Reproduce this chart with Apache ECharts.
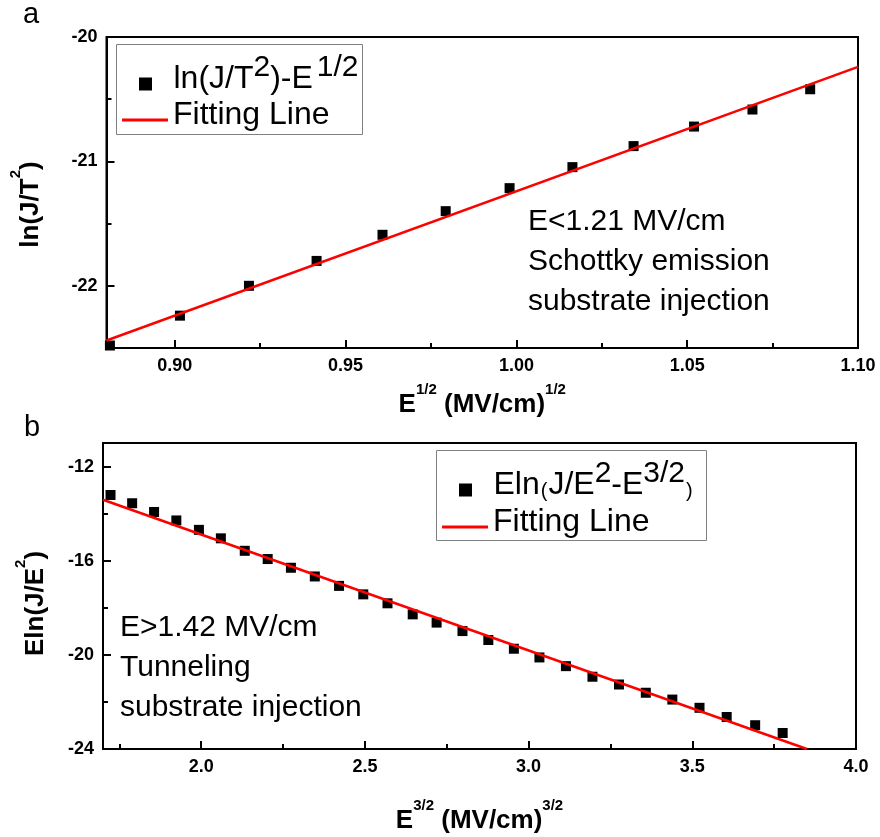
<!DOCTYPE html>
<html>
<head>
<meta charset="utf-8">
<script src="https://cdn.jsdelivr.net/npm/echarts@6/dist/echarts.min.js"></script>
<style>
  html, body { margin: 0; background: #fff; }
  #chart { width: 880px; height: 837px; }
</style>
</head>
<body>
<div id="chart"></div>
<script>
// panel a: Schottky emission, ln(J/T^2) vs E^1/2
const schottkyX = [0.881, 0.9015, 0.9217, 0.9415, 0.9608, 0.9793, 0.998, 1.0164, 1.0343, 1.052, 1.0691, 1.086];
const schottkyY = [-22.48, -22.24, -22.0, -21.8, -21.59, -21.4, -21.215, -21.046, -20.877, -20.72, -20.583, -20.42];
const schottkyFitX = [0.88, 1.10];
const schottkyFitY = [-22.44, -20.24];

// panel b: tunneling, Eln(J/E^2) vs E^3/2
const tunnelX = [1.723, 1.789, 1.856, 1.924, 1.993, 2.06, 2.133, 2.203, 2.274, 2.347, 2.421, 2.495, 2.569, 2.646,
  2.719, 2.798, 2.877, 2.955, 3.033, 3.114, 3.195, 3.276, 3.358, 3.439, 3.522, 3.605, 3.692, 3.776];
const tunnelY = [-13.21, -13.56, -13.93, -14.29, -14.69, -15.05, -15.58, -15.93, -16.3, -16.67, -17.07, -17.43, -17.81, -18.28,
  -18.63, -18.99, -19.37, -19.74, -20.11, -20.48, -20.93, -21.26, -21.61, -21.9, -22.25, -22.64, -22.99, -23.32];
const tunnelFitX = [1.7, 3.85];
const tunnelFitY = [-13.41, -24];

// tick labels
const ticksAX = [0.90, 0.95, 1.00, 1.05, 1.10];
const minorAX = [0.925, 0.975, 1.025, 1.075];
const ticksAY = [-22, -21, -20];
const minorAY = [-21.5, -20.5];
const ticksBX = [2.0, 2.5, 3.0, 3.5, 4.0];
const minorBX = [1.75, 2.25, 2.75, 3.25, 3.75];
const ticksBY = [-24, -20, -16, -12];
const minorBY = [-22, -18, -14];

const FONT = "'Liberation Sans', Arial, sans-serif";
const pairs = (xs, ys) => xs.map((x, i) => [x, ys[i]]);

// superscripts: token height decides where a top-aligned token sits
const nameRich = {
  b: { fontFamily: FONT, fontWeight: 'bold', fontSize: 26, lineHeight: 36, color: '#000' },
  s: { fontFamily: FONT, fontWeight: 'bold', fontSize: 15, height: 6, lineHeight: 6, verticalAlign: 'top', color: '#000' }
};
const legendRich = {
  n: { fontFamily: FONT, fontSize: 32, lineHeight: 32, color: '#000' },
  s: { fontFamily: FONT, fontSize: 30, height: 10, lineHeight: 10, verticalAlign: 'top', color: '#000' },
  g: { fontFamily: FONT, fontSize: 32, lineHeight: 32, color: '#000', padding: [0, 0, 0, 4] },
  p: { fontFamily: FONT, fontSize: 20, height: 20, lineHeight: 20, verticalAlign: 'bottom', color: '#000', padding: [0, 1, 0, 1] }
};

function mainAxis(grid, min, max, ticks, digits, name, gap, pad) {
  return {
    type: 'value', gridIndex: grid, min: min, max: max,
    axisLine: { onZero: false, lineStyle: { color: '#000', width: 2 } },
    axisTick: { inside: true, length: 8, customValues: ticks, lineStyle: { color: '#000', width: 2 } },
    axisLabel: {
      customValues: ticks, margin: 9, color: '#000', fontFamily: FONT, fontWeight: 'bold', fontSize: 18,
      formatter: v => digits === 0 ? String(v) : v.toFixed(digits)
    },
    splitLine: { show: false },
    name: name, nameLocation: 'middle', nameGap: gap,
    nameTextStyle: { rich: nameRich, padding: pad || 0 }
  };
}
function minorAxis(grid, min, max, ticks, pos) {
  return {
    type: 'value', gridIndex: grid, min: min, max: max, position: pos,
    axisLine: { show: false, onZero: false },
    axisTick: { inside: true, length: 5, customValues: ticks, lineStyle: { color: '#000', width: 2 } },
    axisLabel: { show: false },
    splitLine: { show: false }
  };
}
function legendRow(left, top, name, icon, text) {
  return {
    orient: 'vertical', left: left, top: top, padding: 0,
    itemWidth: 46, itemHeight: 13, selectedMode: false,
    data: [{ name: name, icon: icon }],
    formatter: () => text,
    textStyle: { rich: legendRich, padding: [0, 0, 10, 0] }
  };
}
const SQUARE = 'path://M0 0H10V10H0Z';
const BAR = 'path://M0 0H46V3H0Z';

const chart = echarts.init(document.getElementById('chart'));
chart.setOption({
  animation: false,
  backgroundColor: '#fff',
  grid: [
    { left: 106, top: 37, right: 22, height: 311, show: true, borderColor: '#000', borderWidth: 2 },
    { left: 103, top: 443, right: 24, height: 306, show: true, borderColor: '#000', borderWidth: 2 }
  ],
  xAxis: [
    Object.assign(mainAxis(0, 0.88, 1.10, ticksAX, 2, '{b|E}{s|1/2}{b| (MV/cm)}{s|1/2}', 39), { position: 'bottom' }),
    minorAxis(0, 0.88, 1.10, minorAX, 'bottom'),
    Object.assign(mainAxis(1, 1.7, 4.0, ticksBX, 1, '{b|E}{s|3/2}{b| (MV/cm)}{s|3/2}', 54), { position: 'bottom' }),
    minorAxis(1, 1.7, 4.0, minorBX, 'bottom')
  ],
  yAxis: [
    Object.assign(mainAxis(0, -22.5, -20, ticksAY, 0, '{b|ln(J/T}{s|2}{b|)}', 58, [0, 24, 0, 0]), { position: 'left' }),
    minorAxis(0, -22.5, -20, minorAY, 'left'),
    Object.assign(mainAxis(1, -24, -11, ticksBY, 0, '{b|Eln(J/E}{s|2}{b|)}', 49, [0, 15, 0, 0]), { position: 'left' }),
    minorAxis(1, -24, -11, minorBY, 'left')
  ],
  legend: [
    legendRow(139, 53, 'ln(J/T2)-E1/2', SQUARE, '{n|ln(J/T}{s|2}{n|)-E}{g|}{s|1/2}'),
    legendRow(122, 99, 'Fitting Line', BAR, '{n|Fitting Line}'),
    legendRow(459, 459, 'Eln(J/E2-E3/2)', SQUARE, '{n|Eln}{p|(}{n|J/E}{s|2}{n|-E}{s|3/2}{p|)}'),
    legendRow(442, 506, 'Fitting Line', BAR, '{n|Fitting Line}')
  ],
  graphic: [
    { type: 'rect', shape: { x: 116.5, y: 44.5, width: 246, height: 90 }, style: { fill: null, stroke: '#808080', lineWidth: 1 }, z: 10 },
    { type: 'rect', shape: { x: 436.5, y: 450.5, width: 270, height: 90 }, style: { fill: null, stroke: '#808080', lineWidth: 1 }, z: 10 },
    { type: 'text', x: 23, y: 15, style: { text: 'a', font: '29px ' + FONT, fill: '#000', verticalAlign: 'middle' } },
    { type: 'text', x: 24, y: 428, style: { text: 'b', font: '29px ' + FONT, fill: '#000', verticalAlign: 'middle' } },
    { type: 'text', x: 528, y: 202, style: { text: 'E<1.21 MV/cm\nSchottky emission\nsubstrate injection', font: '30px ' + FONT, lineHeight: 40, fill: '#000' } },
    { type: 'text', x: 120, y: 608, style: { text: 'E>1.42 MV/cm\nTunneling\nsubstrate injection', font: '30px ' + FONT, lineHeight: 40, fill: '#000' } }
  ],
  series: [
    {
      name: 'ln(J/T2)-E1/2', type: 'scatter', xAxisIndex: 0, yAxisIndex: 0,
      symbol: 'rect', symbolSize: 10, itemStyle: { color: '#000', opacity: 1 },
      data: pairs(schottkyX, schottkyY), z: 3
    },
    {
      name: 'Fitting Line', type: 'line', xAxisIndex: 0, yAxisIndex: 0,
      symbol: 'none', lineStyle: { color: '#ff0000', width: 2.5 }, itemStyle: { color: '#ff0000' },
      data: pairs(schottkyFitX, schottkyFitY), z: 4
    },
    {
      name: 'Eln(J/E2-E3/2)', type: 'scatter', xAxisIndex: 2, yAxisIndex: 2,
      symbol: 'rect', symbolSize: 10, itemStyle: { color: '#000', opacity: 1 },
      data: pairs(tunnelX, tunnelY), z: 3
    },
    {
      name: 'Fitting Line', type: 'line', xAxisIndex: 2, yAxisIndex: 2,
      symbol: 'none', lineStyle: { color: '#ff0000', width: 2.5 }, itemStyle: { color: '#ff0000' },
      data: pairs(tunnelFitX, tunnelFitY), z: 4
    }
  ]
});
</script>
</body>
</html>
